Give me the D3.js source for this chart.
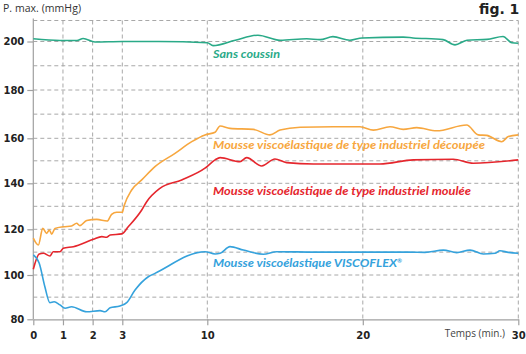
<!DOCTYPE html>
<html>
<head>
<meta charset="utf-8">
<script src="https://cdn.jsdelivr.net/npm/d3@7/dist/d3.min.js"></script>
<style>
  body { margin: 0; background: #fff; }
  svg { display: block; }
  .grid line { stroke: #a8a8a8; stroke-dasharray: 4,3; stroke-width: 1; }
  .axis path, .axis line { stroke: #a0a0a0; stroke-width: 1.2; }
  .axis text { font-family: "DejaVu Sans", sans-serif; font-weight: bold; font-size: 10px; fill: #222; }
  .serieLabel { font-family: Lato, sans-serif; font-weight: bold; font-style: italic; font-size: 11.5px; }
</style>
</head>
<body>
<div id="chart"></div>
<script>
// temps en minutes, pression max en mmHg
var sansCoussinT = [0, 0.9, 1.47, 1.68, 2.08, 3, 6, 10, 10.37, 11.8, 13.26, 14.68, 16.39, 17.25, 18.08, 19.17, 19.95, 22.6, 23.23, 25.16, 25.93, 26.7, 27.99, 29.02, 29.58, 30];
var sansCoussinV = [201.3, 200.5, 200.5, 201.4, 199.8, 200, 200, 199.5, 198.3, 200.6, 203, 200.6, 201.3, 200.9, 202.3, 200.6, 201.7, 202.1, 201.7, 200.9, 198.6, 200.6, 201, 202.4, 199.5, 199.3];

var decoupeeT = [0, 0.17, 0.32, 0.45, 0.54, 0.62, 0.73, 1.01, 1.29, 1.46, 1.57, 1.8, 2.14, 2.49, 2.64, 2.81, 3, 3.14, 3.77, 4.6, 5.69, 7.34, 8.72, 9.81, 10.5, 10.82, 11.46, 12.96, 14.03, 14.68, 15.97, 18.1, 19.82, 20.68, 21.75, 22.6, 23.47, 24.75, 26.68, 27.43, 27.97, 28.93, 29.36, 30];
var decoupeeV = [116.1, 113.1, 120.4, 118.2, 119.7, 117.9, 120.4, 121.1, 121.4, 122.6, 121.6, 123.8, 124.3, 123.6, 126.5, 127.4, 127.4, 130.1, 137.1, 141.5, 147.4, 153.3, 158.5, 161.4, 162.5, 165.1, 164.1, 163.7, 161.4, 163.4, 164.6, 164.8, 164.8, 163.4, 164.8, 163.7, 164.4, 163.1, 165.5, 161.4, 161.2, 158.5, 160.7, 161.4];

var mouleeT = [0, 0.2, 0.34, 0.56, 0.67, 0.9, 1.01, 1.35, 2.02, 2.31, 2.47, 2.59, 2.98, 3.49, 4.6, 5.01, 6.1, 7.89, 9.81, 10.5, 10.82, 12.1, 12.53, 13.5, 14.35, 15.1, 16.82, 21.1, 23.25, 25.82, 27.1, 30];
var mouleeV = [102.5, 109.2, 109.5, 108.3, 110.2, 110.2, 111.7, 112.4, 115.6, 116.8, 116.5, 117.5, 118, 121.1, 128.4, 132, 137.8, 141.5, 146.7, 150.4, 151.4, 149.6, 151.4, 147.7, 150.8, 149.2, 148.6, 148.6, 150.4, 150.7, 148.9, 150.4];

var viscoflexT = [0, 0.2, 0.39, 0.56, 0.7, 0.9, 1.07, 1.29, 1.8, 2.25, 2.42, 2.59, 2.92, 3.36, 4.05, 5.14, 5.69, 9.81, 10.5, 10.82, 11.46, 12.32, 13.6, 14.46, 17, 20, 23, 24, 25.18, 26.04, 26.9, 27.75, 28.5, 28.82, 29.36, 30];
var viscoflexV = [108.8, 105.1, 94.7, 87.5, 87.9, 86.5, 85, 85.7, 83.4, 83.9, 83.4, 85.2, 86, 87.5, 93.2, 99.2, 100.7, 110.2, 109.2, 109.5, 112.4, 110.9, 109.1, 110.2, 110, 110, 110, 109.9, 110.9, 109.8, 110.9, 109.2, 109.5, 110.6, 109.9, 109.5];

var xTicks = [0, 1, 2, 3, 10, 20, 30];
var xGrid = [1, 2, 3, 10, 20, 30];
var yTicks = [80, 100, 120, 140, 160, 180, 200];
var yGrid = [90, 100, 110, 120, 130, 140, 150, 160, 170, 180, 190, 200, 210];

var series = [
  { name: "Sans coussin", t: sansCoussinT, v: sansCoussinV, color: "#2aaa88", lx: 213, ly: 57.5, len: 67 },
  { name: "Mousse viscoélastique de type industriel découpée", t: decoupeeT, v: decoupeeV, color: "#f7a73f", lx: 213, ly: 148.5, len: 272 },
  { name: "Mousse viscoélastique de type industriel moulée", t: mouleeT, v: mouleeV, color: "#e5262d", lx: 213, ly: 195, len: 258 },
  { name: "Mousse viscoélastique VISCOFLEX", t: viscoflexT, v: viscoflexV, color: "#35a2dc", lx: 213, ly: 266.5, len: 184, sup: "®" }
];

var w = 526, h = 354;

// echelle de temps non lineaire comme sur la figure
var xScale = d3.scaleLinear().domain([0, 3, 10, 30]).range([33.3, 122.3, 207.3, 518.3]);
var yScale = d3.scaleLinear()
  .domain([80, 100, 120, 140, 160, 180, 200, 210])
  .range([319.3, 275, 229.3, 183.3, 138.3, 90, 41.5, 20.5]);

var svg = d3.select("#chart").append("svg").attr("width", w).attr("height", h);

var grid = svg.append("g").attr("class", "grid");
grid.selectAll(".hg").data(yGrid).enter().append("line")
  .attr("x1", xScale(0)).attr("x2", xScale(30))
  .attr("y1", function (d) { return yScale(d); }).attr("y2", function (d) { return yScale(d); });
grid.selectAll(".vg").data(xGrid).enter().append("line")
  .attr("x1", function (d) { return xScale(d); }).attr("x2", function (d) { return xScale(d); })
  .attr("y1", yScale(210)).attr("y2", yScale(80));

var leftAxis = d3.axisLeft(yScale).tickValues(yTicks).tickSize(6).tickPadding(3).tickSizeOuter(0);
var gy = svg.append("g").attr("class", "axis").attr("transform", "translate(" + xScale(0) + ",0)").call(leftAxis);
gy.select(".domain").attr("d", "M0," + (yScale(210) - 2) + "V" + yScale(80));

var bottomAxis = d3.axisBottom(xScale).tickValues(xTicks).tickSize(6).tickPadding(5).tickSizeOuter(0);
var gx = svg.append("g").attr("class", "axis").attr("transform", "translate(0," + yScale(80) + ")").call(bottomAxis);
gx.selectAll(".tick text").attr("dy", "0.85em");

var line = d3.line()
  .x(function (d) { return xScale(d[0]); })
  .y(function (d) { return yScale(d[1]); })
  .curve(d3.curveMonotoneX);

series.forEach(function (s) {
  var pts = s.t.map(function (t, i) { return [t, s.v[i]]; });
  svg.append("path").attr("d", line(pts))
    .attr("fill", "none").attr("stroke", s.color).attr("stroke-width", 1.6)
    .attr("stroke-linejoin", "round");
  var txt = svg.append("text").attr("class", "serieLabel")
    .attr("x", s.lx).attr("y", s.ly).attr("fill", s.color);
  txt.append("tspan").text(s.name).attr("textLength", s.len).attr("lengthAdjust", "spacingAndGlyphs");
  if (s.sup) txt.append("tspan").attr("dy", -4).attr("font-size", "6px").text(s.sup);
});

svg.append("text").attr("x", 3).attr("y", 12)
  .style("font-family", "'Open Sans', sans-serif").style("font-size", "10.5px").style("fill", "#333")
  .attr("textLength", 78).text("P. max. (mmHg)");

svg.append("text").attr("x", 479).attr("y", 14)
  .style("font-family", "'DejaVu Sans', sans-serif").style("font-weight", "bold").style("font-size", "14px").style("fill", "#222")
  .text("fig. 1");

svg.append("text").attr("x", 505).attr("y", 337).attr("text-anchor", "end")
  .style("font-family", "'Open Sans', sans-serif").style("font-size", "10px").style("fill", "#444")
  .text("Temps (min.)");
</script>
</body>
</html>
